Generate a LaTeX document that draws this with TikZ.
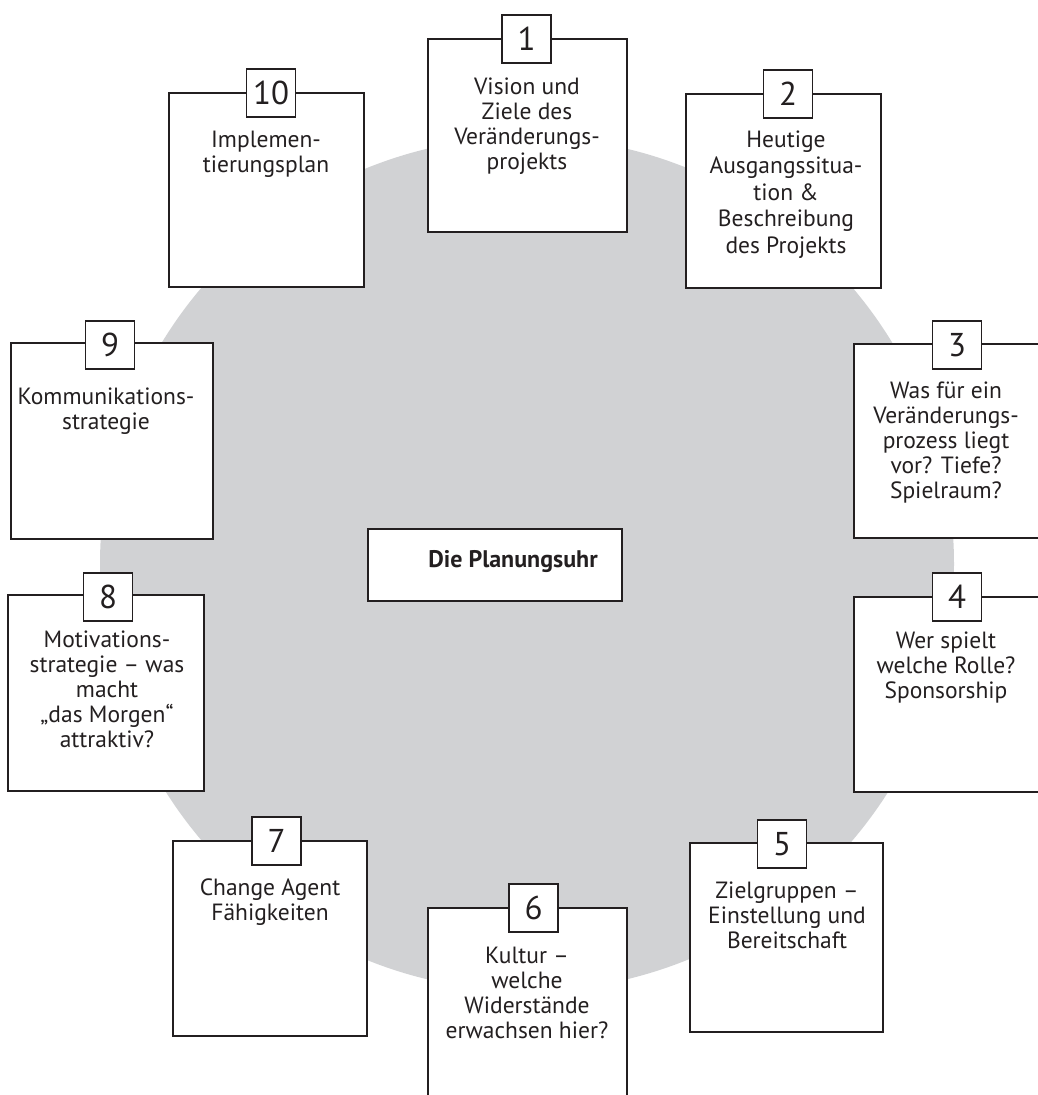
\documentclass[tikz,border=0pt]{standalone}
\usepackage{fontspec}
\setmainfont{PT Sans}
\definecolor{disc}{HTML}{D1D2D4}
\definecolor{ink}{HTML}{231F20}
\tikzset{
  card/.style={draw=ink, line width=1.6pt, fill=white, inner sep=0pt},
  numbox/.style={draw=ink, line width=1.6pt, fill=white, minimum width=49pt, minimum height=48pt, inner sep=0pt, text=ink, font=\fontsize{33}{33}\selectfont},
  lbl/.style={align=center, inner sep=0pt, text=ink, font=\fontsize{23.5}{25}\selectfont, anchor=base},
}
\begin{document}
\begin{tikzpicture}[x=1pt,y=-1pt]
\path[use as bounding box] (0,0) rectangle (1038,1095);
\clip (0,0) rectangle (1038,1095);
\fill[disc] (527,564) circle (427pt);
% cards
\node[card, minimum width=199pt, minimum height=193pt] (b1) at (527.5,135.5) {};
\node[card, minimum width=195pt, minimum height=194pt] (b2) at (783.5,191) {};
\node[card, minimum width=206pt, minimum height=194pt] (b3) at (957,441) {};
\node[card, minimum width=206pt, minimum height=195pt] (b4) at (957,694.5) {};
\node[card, minimum width=193pt, minimum height=189pt] (b5) at (786.5,937.5) {};
\node[card, minimum width=199pt, minimum height=212pt] (b6) at (527.5,1014) {};
\node[card, minimum width=194pt, minimum height=195pt] (b7) at (270,938.5) {};
\node[card, minimum width=196pt, minimum height=196pt] (b8) at (106,693) {};
\node[card, minimum width=202pt, minimum height=196pt] (b9) at (112,441) {};
\node[card, minimum width=195pt, minimum height=194pt] (b10) at (266.5,190) {};
% number tabs
\node[numbox] (n1) at (526.5,39) {1};
\node[numbox] (n2) at (788,94) {2};
\node[numbox] (n3) at (957,345) {3};
\node[numbox] (n4) at (957,597) {4};
\node[numbox] (n5) at (782,844) {5};
\node[numbox] (n6) at (533.5,908) {6};
\node[numbox] (n7) at (276.5,841) {7};
\node[numbox] (n8) at (108,597) {8};
\node[numbox] (n9) at (110,345) {9};
\node[numbox] (n10) at (271,93) {10};
% texts (anchor base = baseline of the last line)
\node[lbl] (t1) at (527,169) {Vision und\\Ziele des\\Veränderungs-\\projekts};
\node[lbl, font=\fontsize{23.5}{26.5}\selectfont] (t2) at (786,253) {Heutige\\Ausgangssitua-\\tion \&\\Beschreibung\\des Projekts};
\node[lbl] (t3) at (946,498) {Was für ein\\Veränderungs-\\prozess liegt\\vor? Tiefe?\\Spielraum?};
\node[lbl] (t4) at (946,698) {Wer spielt\\welche Rolle?\\Sponsorship};
\node[lbl] (t5) at (787,948) {Zielgruppen –\\Einstellung und\\Bereitschaft};
\node[lbl] (t6) at (527,1038) {Kultur –\\welche\\Widerstände\\erwachsen hier?};
\node[lbl] (t7) at (270,920) {Change Agent\\Fähigkeiten};
\node[lbl] (t8) at (107,747) {Motivations-\\strategie – was\\macht\\„das Morgen“\\attraktiv?};
\node[lbl] (t9) at (106,429) {Kommunikations-\\strategie};
\node[lbl] (t10) at (266,172) {Implemen-\\tierungsplan};
% centre
\node[card, minimum width=254pt, minimum height=72pt] (c) at (495,565) {};
\node[lbl, font=\bfseries\fontsize{24}{25}\selectfont] (ct) at (513,567) {Die Planungsuhr};
\end{tikzpicture}
\end{document}
